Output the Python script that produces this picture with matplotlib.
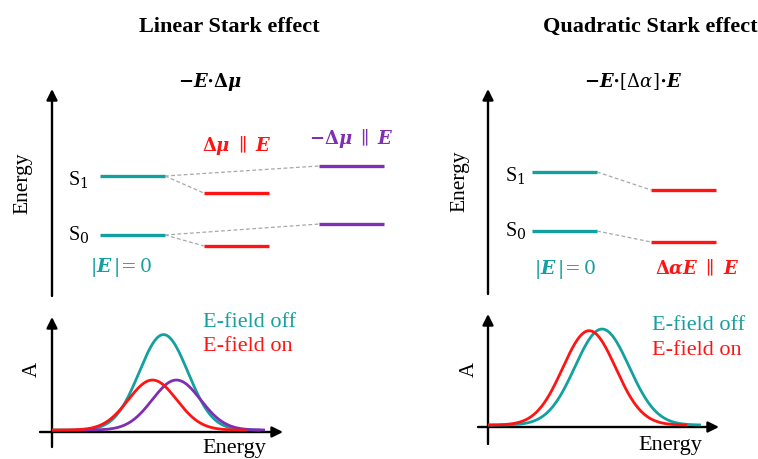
import numpy as np
import matplotlib.pyplot as plt

plt.rcParams['mathtext.fontset'] = 'dejavuserif'

W, H = 758, 460
TEAL = '#13a09f'
RED = '#ff1414'
PURPLE = '#7e2fb2'
GREY = '#a8a8a8'
SERIF = 'Liberation Serif'

# level energies [S0, S1] in units of the unperturbed S0-S1 gap
levels_off = [0.0, 1.0]
levels_lin_par = [-0.186, 0.71]     # dmu parallel to E
levels_lin_anti = [0.186, 1.17]     # -dmu parallel to E
levels_quad = [-0.186, 0.695]       # dalpha E parallel to E

# absorption bands: centre, width, height (fraction of axis)
band_lin_off = (0.485, 0.106, 0.83)
band_lin_par = (0.437, 0.105, 0.435)
band_lin_anti = (0.541, 0.105, 0.435)
band_quad_off = (0.496, 0.118, 0.85)
band_quad_on = (0.44, 0.115, 0.835)
baseline = 0.017


def px_axes(fig, x0, y0, x1, y1):
    ax = fig.add_axes([x0 / W, 1 - y1 / H, (x1 - x0) / W, (y1 - y0) / H])
    ax.axis('off')
    return ax


def band(x, params):
    c, w, h = params
    return baseline + h * np.exp(-0.5 * ((x - c) / w) ** 2)


def arrow(ax, x0, y0, x1, y1):
    ax.annotate('', xy=(x1, y1), xytext=(x0, y0),
                arrowprops=dict(arrowstyle='-|>', lw=1.7, color='black',
                                mutation_scale=16, shrinkA=0, shrinkB=0))


fig = plt.figure(figsize=(W / 100, H / 100), dpi=100)

# overlay in pixel coordinates for text and axis arrows
ov = fig.add_axes([0, 0, 1, 1])
ov.set_xlim(0, W)
ov.set_ylim(H, 0)
ov.axis('off')


def level_panel(y_s0, teal_x, shifted):
    # energy axis maps y_px = y_s0 - 59 * E
    ax = px_axes(fig, 0, 0, W, H)
    ax.set_xlim(0, W)
    ax.set_ylim((y_s0 - H) / 59, y_s0 / 59)
    for e in levels_off:
        ax.plot(teal_x, [e, e], color=TEAL, lw=2.4, solid_capstyle='butt')
    for xs, lv, col in shifted:
        for e0, e1 in zip(levels_off, lv):
            ax.plot([teal_x[1], xs[0]], [e0, e1], color=GREY, lw=0.9,
                    ls=(0, (3, 2)))
            ax.plot(xs, [e1, e1], color=col, lw=2.4, solid_capstyle='butt')
    return ax


level_panel(236, [100, 165], [([204, 269], levels_lin_par, RED),
                              ([319, 384], levels_lin_anti, PURPLE)])
level_panel(232, [532, 597], [([651, 716], levels_quad, RED)])

arrow(ov, 52, 297, 52, 90)
arrow(ov, 488, 295, 488, 90)

# titles and formulas
ov.text(229, 27, 'Linear Stark effect', ha='center', va='center',
        fontsize=16, fontweight='bold', family=SERIF)
ov.text(650, 27, 'Quadratic Stark effect', ha='center', va='center',
        fontsize=16, fontweight='bold', family=SERIF)
ov.text(210, 82, r'$\mathbf{-}\mathbfit{E}\mathbf{\cdot\Delta}\mathbfit{\mu}$',
        ha='center', va='center', fontsize=13)
ov.text(633, 82, r'$\mathbf{-}\mathbfit{E}\mathbf{\cdot}[\Delta\alpha]\mathbf{\cdot}\mathbfit{E}$',
        ha='center', va='center', fontsize=13)

for x, y in [(23, 183), (460, 181)]:
    ov.text(x, y, 'Energy', rotation=90, ha='center', va='center',
            fontsize=15.5, family=SERIF)

for x, y1, y0 in [(68, 180, 235), (505, 176, 231)]:
    ov.text(x, y1, r'S$_1$', ha='left', va='center', fontsize=14.5, family=SERIF)
    ov.text(x, y0, r'S$_0$', ha='left', va='center', fontsize=14.5, family=SERIF)

for x, y in [(90, 268), (534, 270)]:
    ov.text(x, y, r'$|\mathbfit{E}\,|\!=0$', ha='left', va='center',
            fontsize=13.5, color=TEAL)

ov.text(237, 146, r'$\mathbf{\Delta}\mathbfit{\mu}\ \parallel\ \mathbfit{E}$',
        ha='center', va='center', fontsize=13, color=RED)
ov.text(351, 139, r'$\mathbf{-\Delta}\mathbfit{\mu}\ \parallel\ \mathbfit{E}$',
        ha='center', va='center', fontsize=13, color=PURPLE)
ov.text(697, 268, r'$\mathbf{\Delta}\mathbfit{\alpha E}\ \parallel\ \mathbfit{E}$',
        ha='center', va='center', fontsize=13, color=RED)

# spectra
sp1 = px_axes(fig, 52, 318, 282, 433)
sp1.set_xlim(0, 1)
sp1.set_ylim(0, 1)
x = np.linspace(0.0, 0.9, 300)
sp1.plot(x, band(x, band_lin_off), color=TEAL, lw=2)
xp = np.linspace(0.11, 0.92, 300)
sp1.plot(xp, band(xp, band_lin_anti), color=PURPLE, lw=2)
xr = np.linspace(-0.01, 0.84, 300)
sp1.plot(xr, band(xr, band_lin_par), color=RED, lw=2)

sp2 = px_axes(fig, 488, 315, 718, 428)
sp2.set_xlim(0, 1)
sp2.set_ylim(0, 1)
x = np.linspace(0.0, 0.92, 300)
sp2.plot(x, band(x, band_quad_off), color=TEAL, lw=2)
xr = np.linspace(0.0, 0.86, 300)
sp2.plot(xr, band(xr, band_quad_on), color=RED, lw=2)

arrow(ov, 52, 448, 52, 318)
arrow(ov, 40, 433, 283, 433)
arrow(ov, 488, 445, 488, 315)
arrow(ov, 478, 428, 719, 428)

for x, y_off, y_on, xa in [(203, 323, 347, 32), (652, 326, 351, 469)]:
    ov.text(x, y_off, 'E-field off', ha='left', va='center', fontsize=16,
            family=SERIF, color=TEAL)
    ov.text(x, y_on, 'E-field on', ha='left', va='center', fontsize=16,
            family=SERIF, color=RED)
    ov.text(xa, 369, 'A', rotation=90, ha='center', va='center', fontsize=15,
            family=SERIF)

ov.text(202, 449, 'Energy', ha='left', va='center', fontsize=16, family=SERIF)
ov.text(638, 446, 'Energy', ha='left', va='center', fontsize=16, family=SERIF)

fig.savefig('out.png', dpi=100)
